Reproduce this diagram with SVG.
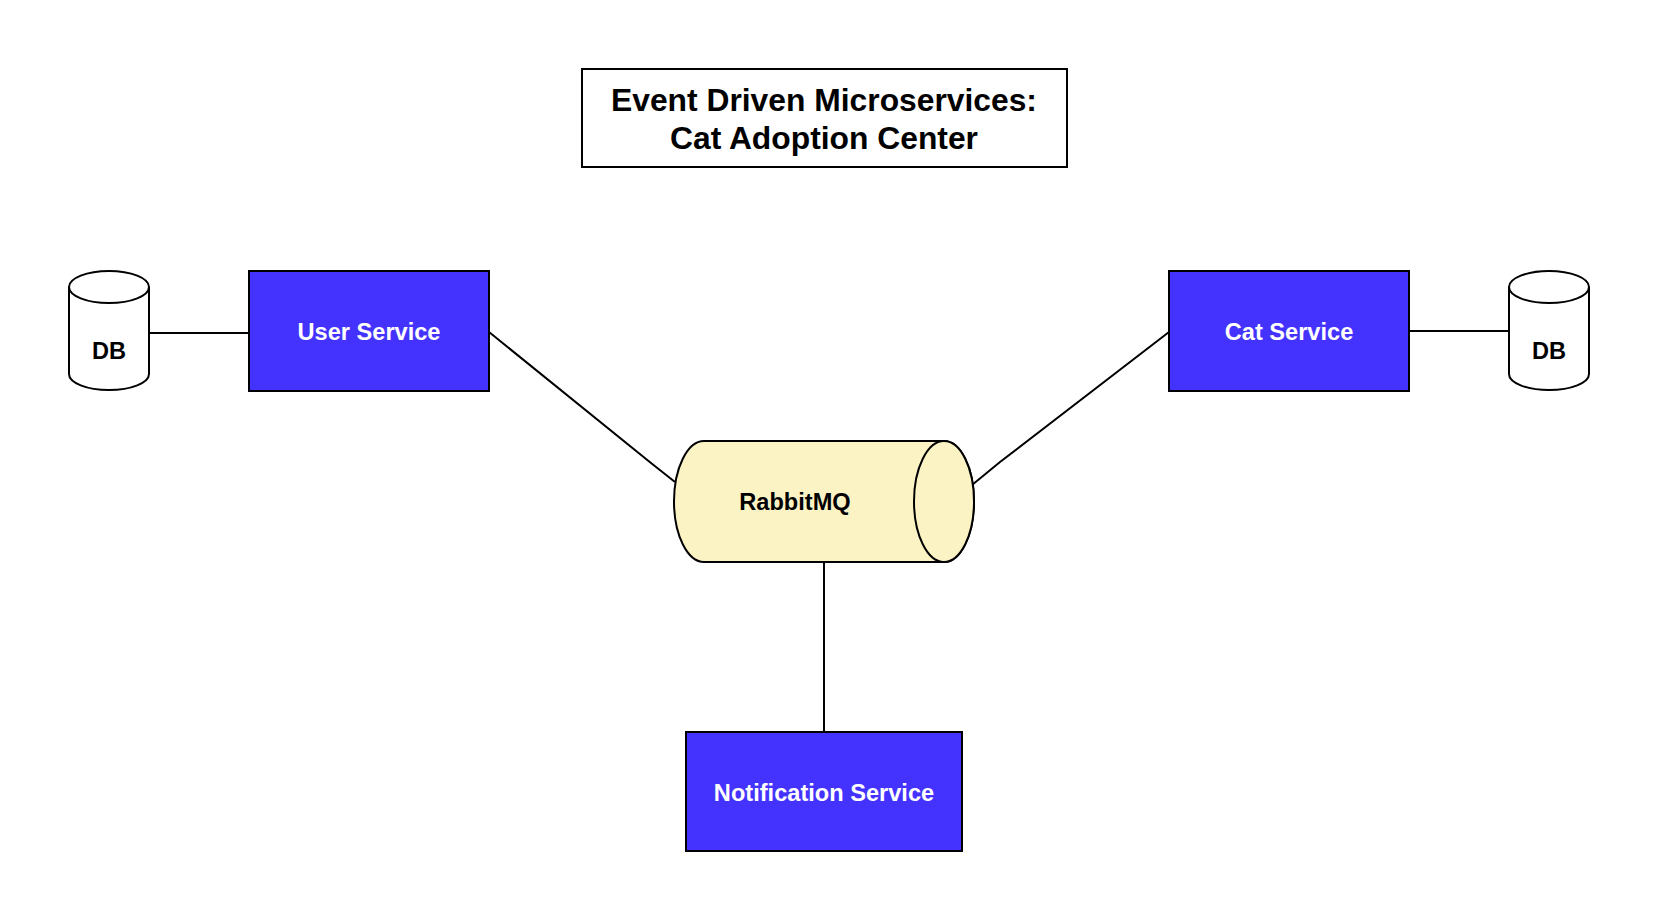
<svg xmlns="http://www.w3.org/2000/svg" width="1674" height="922" viewBox="0 0 1674 922">
<style>
text{font-family:"Liberation Sans",Arial,sans-serif;font-weight:bold;text-anchor:middle}
.svc{fill:#4433FF;stroke:#000;stroke-width:2}
.svct{fill:#fff;font-size:23.6px}
.db{fill:#fff;stroke:#000;stroke-width:2}
.dbt{fill:#000;font-size:23.6px}
.conn{fill:none;stroke:#000;stroke-width:2}
</style>
<rect width="1674" height="922" fill="#fff"/>
<g id="title">
<rect x="582" y="69" width="485" height="98" fill="#fff" stroke="#000" stroke-width="2"/>
<text x="824" y="111" font-size="31.8">Event Driven Microservices:</text>
<text x="824" y="149" font-size="31.8">Cat Adoption Center</text>
</g>
<g id="connectors">
<line class="conn" x1="149" y1="333" x2="249" y2="333"/>
<line class="conn" x1="1409" y1="331" x2="1509" y2="331"/>
<polyline class="conn" points="489,332 651,463 675,482"/>
<polyline class="conn" points="1169,332 1000,462 972,485"/>
<line class="conn" x1="824" y1="562" x2="824" y2="732"/>
</g>
<g id="user-service">
<rect class="svc" x="249" y="271" width="240" height="120"/>
<text class="svct" x="369" y="340">User Service</text>
</g>
<g id="cat-service">
<rect class="svc" x="1169" y="271" width="240" height="120"/>
<text class="svct" x="1289" y="340">Cat Service</text>
</g>
<g id="notification-service">
<rect class="svc" x="686" y="732" width="276" height="119"/>
<text class="svct" x="824" y="801">Notification Service</text>
</g>
<g id="db-left">
<path class="db" d="M69,287 A40,16 0 0 1 149,287 L149,374 A40,16 0 0 1 69,374 Z"/>
<path class="db" d="M69,287 A40,16 0 0 0 149,287"/>
<text class="dbt" x="109" y="359">DB</text>
</g>
<g id="db-right">
<path class="db" d="M1509,287 A40,16 0 0 1 1589,287 L1589,374 A40,16 0 0 1 1509,374 Z"/>
<path class="db" d="M1509,287 A40,16 0 0 0 1589,287"/>
<text class="dbt" x="1549" y="359">DB</text>
</g>
<g id="rabbitmq">
<path d="M704,441 L944,441 A30,60.5 0 0 1 944,562 L704,562 A30,60.5 0 0 1 704,441 Z" fill="#FCF3C5" stroke="#000" stroke-width="2"/>
<ellipse cx="944" cy="501.5" rx="30" ry="60.5" fill="#FCF3C5" stroke="#000" stroke-width="2"/>
<text x="795" y="510" font-size="23.6" fill="#000">RabbitMQ</text>
</g>
</svg>
